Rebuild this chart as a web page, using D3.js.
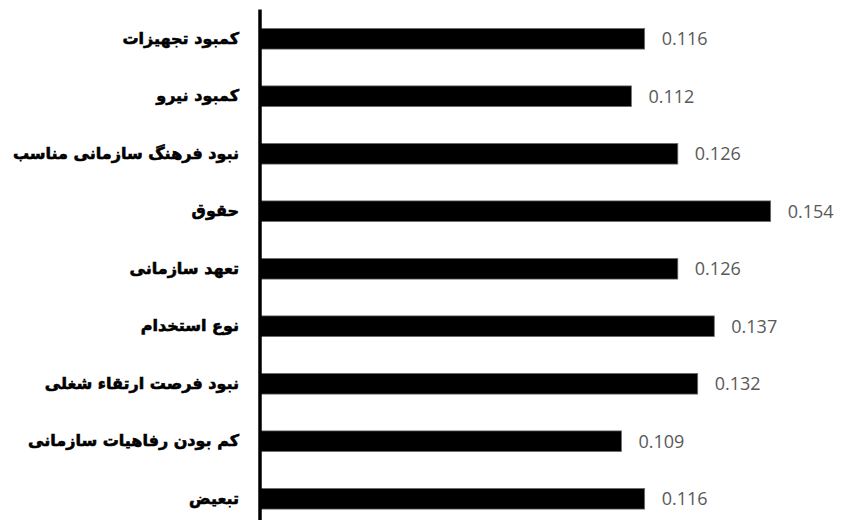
<!DOCTYPE html>
<html><head><meta charset="utf-8">
<script src="https://cdn.jsdelivr.net/npm/d3@7"></script>
<style>html,body{margin:0;padding:0;background:#fff;}svg{display:block;}</style>
</head><body>
<svg id="c" width="841" height="520"></svg>
<script>
const categories = ["کمبود تجهیزات","کمبود نیرو","نبود فرهنگ سازمانی مناسب","حقوق","تعهد سازمانی","نوع استخدام","نبود فرصت ارتقاء شغلی","کم بودن رفاهیات سازمانی","تبعیض"];
const values = [0.116,0.112,0.126,0.154,0.126,0.137,0.132,0.109,0.116];

const svg = d3.select("#c");
const x = d3.scaleLinear().domain([0, 0.17]).range([260, 260 + 0.17*3316]);
const y = d3.scaleBand().domain(categories).range([10, 527.5]).paddingInner(0.64).paddingOuter(0.32);

const data = categories.map((c,i)=>({c, v: values[i]}));

svg.selectAll("rect.bar").data(data).enter().append("rect")
  .attr("class","bar")
  .attr("x", x(0))
  .attr("y", d=>y(d.c))
  .attr("width", d=>x(d.v)-x(0))
  .attr("height", y.bandwidth())
  .attr("fill","#000")
  .attr("stroke","#6f6f6f")
  .attr("stroke-width",0.75);

svg.selectAll("text.val").data(data).enter().append("text")
  .attr("class","val")
  .attr("x", d=>x(d.v)+17)
  .attr("y", d=>y(d.c)+y.bandwidth()/2)
  .attr("dy","0.36em")
  .attr("font-family","'Open Sans', 'Liberation Sans', sans-serif")
  .attr("font-size",18)
  .attr("fill","#595959")
  .text(d=>d3.format(".3f")(d.v));

svg.selectAll("text.cat").data(data).enter().append("text")
  .attr("class","cat")
  .attr("x", 239)
  .attr("y", d=>y(d.c)+y.bandwidth()/2)
  .attr("dy","0.3em")
  .attr("text-anchor","end")
  .attr("font-family","'DejaVu Sans', 'Noto Sans', sans-serif")
  .attr("font-weight","bold")
  .attr("font-size",16)
  .attr("fill","#000")
  .attr("stroke","#000")
  .attr("stroke-width",0.6)
  .text(d=>d.c);

// vertical axis line
svg.append("line")
  .attr("x1", x(0)).attr("x2", x(0))
  .attr("y1", 9.5).attr("y2", 520)
  .attr("stroke","#000").attr("stroke-width",3.5);
</script>
</body></html>
